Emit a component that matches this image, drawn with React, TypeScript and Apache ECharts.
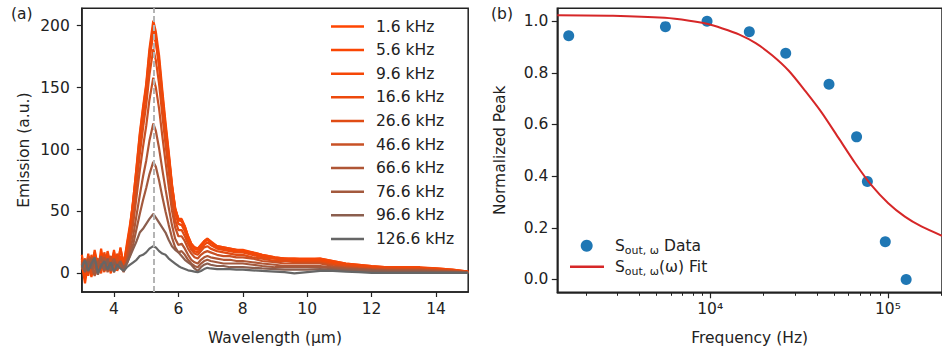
import React, { useEffect, useRef } from "react";
import * as echarts from "echarts";

const FONT = "DejaVu Sans";
const TEXT = "#222222";

// ---- Panel (a): emission spectra ----
const WAVELENGTH = [
  3.0, 3.1, 3.2, 3.3, 3.4, 3.5, 3.6, 3.7, 3.8, 3.9, 4.0, 4.1, 4.2, 4.3,
  4.4, 4.5, 4.6, 4.7, 4.8, 4.9, 5.0, 5.1, 5.22,
  5.3, 5.4, 5.5, 5.6, 5.7, 5.8, 5.9, 6.0, 6.1, 6.2, 6.3, 6.4, 6.5, 6.6, 6.7, 6.8, 6.9, 7.0,
  7.2, 7.4, 7.6, 7.8, 8.0,
  8.3, 8.6, 9.0, 9.3, 9.6,
  10.0, 10.4, 10.8, 11.2, 11.6,
  12.0, 12.5, 13.0, 13.5, 14.0, 14.5, 15.0,
];

const EM_1_6 = [
  8, -8, 10, -2, 14, 1, 20, 4, 12, 0, 15, 3, 21, 6,
  24, 40, 58, 82, 107, 128, 146, 172, 194,
  186, 168, 142, 117, 94, 70, 52, 44, 44, 38, 30, 24, 21, 20, 23, 26, 28, 26,
  22, 21, 20, 19, 19,
  17, 15, 13, 12, 12,
  12, 12, 10, 8, 7,
  6, 5, 5, 4.5, 4, 3, 1.5,
];
const EM_5_6 = [
  15, 2, 9, -3, 17, 6, 11, 1, 16, 4, 19, 2, 14, 7,
  20, 36, 60, 85, 111, 132, 151, 178, 200,
  191, 172, 145, 119, 96, 71, 53, 43, 42, 37, 29, 23, 20, 19, 22, 25, 27, 25,
  21, 20, 19, 18, 18,
  16, 14, 12, 12, 11,
  11, 11, 9, 7, 6,
  5, 5, 4.5, 4.5, 3.5, 2.5, 1.5,
];
const EM_9_6 = [
  12, -4, 16, 3, 19, 5, 14, 2, 18, 7, 17, 6, 20, 8,
  22, 38, 60, 86, 113, 134, 153, 181, 204,
  195, 176, 148, 122, 98, 72, 52, 44, 43, 38, 30, 24, 21, 20, 23, 26, 28, 25,
  22, 21, 20, 19, 18,
  17, 15, 13, 12, 12,
  11, 12, 10, 8, 7,
  6, 5, 5, 5, 4, 3, 1.5,
];
const EM_16_6 = [
  6, 12, -2, 15, 4, 10, 0, 17, 5, 13, 3, 16, 9, 4,
  18, 33, 55, 80, 106, 128, 148, 174, 197,
  188, 168, 141, 115, 91, 66, 49, 40, 39, 34, 27, 21, 18, 17, 20, 23, 25, 23,
  20, 19, 18, 17, 17,
  15, 13, 12, 11, 10,
  10, 10, 8, 7, 6,
  5, 4, 4, 4, 3, 2.5, 1,
];
const EM_26_6 = [
  10, 3, 14, -1, 9, 12, 2, 15, 6, 11, 1, 14, 5, 3,
  15, 28, 48, 72, 96, 117, 136, 160, 181,
  172, 153, 128, 104, 82, 59, 43, 35, 35, 30, 24, 19, 16, 15, 18, 21, 22, 20,
  18, 17, 16, 15, 15,
  13, 12, 10, 10, 9,
  9, 9, 7, 6, 5,
  4, 4, 3.5, 3.5, 3, 2, 1,
];
const EM_46_6 = [
  4, 11, 1, 13, 7, -1, 12, 3, 9, 14, 2, 10, 6, 2,
  12, 24, 41, 62, 83, 102, 119, 140, 158,
  150, 133, 111, 90, 70, 51, 37, 30, 30, 26, 20, 16, 13, 12, 15, 17, 18, 17,
  15, 14, 14, 13, 13,
  12, 10, 9, 8, 8,
  8, 8, 6, 5, 4,
  3.5, 3, 3, 3, 2.5, 2, 1,
];
const EM_66_6 = [
  9, 2, 12, 5, -2, 10, 4, 13, 1, 8, 11, 3, 7, 1,
  9, 18, 31, 47, 63, 78, 91, 107, 121,
  115, 101, 84, 68, 53, 39, 28, 23, 24, 20, 15, 11, 9, 8, 11, 13, 14, 13,
  12, 11, 11, 10, 10,
  9, 8, 7, 6, 6,
  6, 6, 5, 4, 3.5,
  3, 2.5, 2.5, 2.5, 2, 1.5, 0.8,
];
const EM_76_6 = [
  3, 10, 6, 12, 0, 7, 14, 2, 9, 5, 12, 4, 8, 5,
  8, 15, 24, 36, 48, 59, 69, 80, 90,
  86, 75, 62, 50, 39, 29, 21, 17, 18, 15, 11, 8, 6, 5, 8, 10, 11, 10,
  9, 8, 8, 8, 8,
  7, 6, 5, 5, 5,
  5, 5, 4, 3.5, 3,
  2.5, 2, 2, 2, 1.5, 1, 0.5,
];
const EM_96_6 = [
  7, 1, 10, 4, 11, -1, 8, 3, 12, 2, 9, 6, 10, 4,
  8, 14, 20, 26, 33, 36, 40, 44, 48,
  45, 41, 37, 33, 27, 22, 19, 17, 14, 11, 9, 7, 4, 2, 5, 7, 8, 7,
  6, 6, 5, 5, 5,
  4.5, 4, 3.5, 3, 3,
  3, 3.5, 3, 2.5, 2,
  2, 1.5, 1.5, 1.5, 1, 1, 0.5,
];
const EM_126_6 = [
  5, 11, 2, 8, 13, 0, 6, 10, 3, 9, 1, 7, 4, 2,
  5, 7, 9, 11, 14, 15, 17, 20, 22,
  21, 18, 16, 15, 12, 10, 8, 6, 4.5, 3.5, 2.5, 2, 1.5, 1, 2, 3.5, 4.5, 4,
  3.5, 3.5, 3.5, 3, 3,
  2.5, 2, 1.5, 1, 0,
  1, 2, 2, 1.5, 1,
  0.5, 0.5, 0.5, 0.5, 0.5, 0.5, 0.5,
];

const SERIES_LABELS = [
  "1.6 kHz", "5.6 kHz", "9.6 kHz", "16.6 kHz", "26.6 kHz",
  "46.6 kHz", "66.6 kHz", "76.6 kHz", "96.6 kHz", "126.6 kHz",
];
const SERIES_VALUES = [
  EM_1_6, EM_5_6, EM_9_6, EM_16_6, EM_26_6,
  EM_46_6, EM_66_6, EM_76_6, EM_96_6, EM_126_6,
];
const SERIES_COLORS = [
  "#ff4500", "#fa4603", "#f54707", "#ed490c", "#e04c14",
  "#c85125", "#af5635", "#a3593d", "#8b5e4e", "#666666",
];
const PEAK_WAVELENGTH = 5.22;

const LEFT_X_TICKS = [4, 6, 8, 10, 12, 14];
const LEFT_Y_TICKS = [0, 50, 100, 150, 200];

// ---- Panel (b): normalized peak vs frequency ----
const DATA_FREQ = [1600, 5600, 9600, 16600, 26600, 46600, 66600, 76600, 96600, 126600];
const DATA_PEAK = [0.944, 0.979, 1.0, 0.959, 0.876, 0.756, 0.552, 0.379, 0.146, 0.0];

const FIT_FREQ = [1380, 2840, 5550, 7630, 9580, 11720, 14500, 18030, 22300, 27670, 34330, 42500, 52700, 65300, 80900, 100400, 124500, 154200, 201400];
const FIT_PEAK = [1.023, 1.021, 1.013, 1.002, 0.99, 0.972, 0.949, 0.915, 0.868, 0.808, 0.729, 0.645, 0.548, 0.451, 0.364, 0.295, 0.243, 0.205, 0.169];

const RIGHT_X_MIN = 1380;
const RIGHT_X_MAX = 201400;
const RIGHT_X_MAJOR = [10000, 100000];
const RIGHT_X_MINOR = [2000, 3000, 4000, 5000, 6000, 7000, 8000, 9000, 20000, 30000, 40000, 50000, 60000, 70000, 80000, 90000, 200000];
const RIGHT_Y_TICKS = [0, 0.2, 0.4, 0.6, 0.8, 1.0];

const DATA_NAME = "Sout, ω Data";
const FIT_NAME = "Sout, ω(ω) Fit";

const axisText = { color: TEXT, fontSize: 15.5, fontFamily: FONT };
const spine = { show: true, onZero: false, lineStyle: { color: TEXT, width: 1.5 } };
const richLegend = {
  n: { fontSize: 15.5, lineHeight: 20, color: TEXT, fontFamily: FONT },
  s: { fontSize: 11, lineHeight: 11, verticalAlign: "bottom", color: TEXT, fontFamily: FONT },
};

export default function App() {
  const ref = useRef<HTMLDivElement>(null);

  useEffect(() => {
    if (!ref.current) return;
    const chart = echarts.init(ref.current, undefined, { renderer: "svg" });

    const leftSeries: any[] = SERIES_VALUES.map((vals, k) => ({
      type: "line",
      name: SERIES_LABELS[k],
      xAxisIndex: 0,
      yAxisIndex: 0,
      data: WAVELENGTH.map((w, i) => [w, vals[i]]),
      symbol: "none",
      color: SERIES_COLORS[k],
      lineStyle: { color: SERIES_COLORS[k], width: 2.2 },
      silent: true,
    }));
    leftSeries.push({
      type: "line",
      name: "peak-marker",
      xAxisIndex: 0,
      yAxisIndex: 0,
      data: [],
      silent: true,
      markLine: {
        silent: true,
        symbol: ["none", "none"],
        label: { show: false },
        lineStyle: { color: "#b4b4b4", width: 2, type: [6, 3] },
        data: [{ xAxis: PEAK_WAVELENGTH }],
      },
    });

    const option: any = {
      animation: false,
      backgroundColor: "#ffffff",
      textStyle: { fontFamily: FONT },
      graphic: [
        { type: "text", left: 11, top: 6, style: { text: "(a)", fontSize: 15.5, fill: TEXT, fontFamily: FONT } },
        { type: "text", left: 491, top: 6, style: { text: "(b)", fontSize: 15.5, fill: TEXT, fontFamily: FONT } },
      ],
      grid: [
        { left: 81.8, top: 8.3, width: 386.4, height: 283.7, show: true, borderColor: TEXT, borderWidth: 1.5, backgroundColor: "transparent" },
        { left: 557.3, top: 8.3, right: -2, height: 284, show: true, borderColor: TEXT, borderWidth: 1.5, backgroundColor: "transparent" },
      ],
      legend: [
        {
          data: SERIES_LABELS,
          orient: "vertical",
          left: 331,
          top: 17.5,
          padding: 0,
          icon: "rect",
          itemWidth: 33,
          itemHeight: 2.5,
          itemGap: 5.6,
          selectedMode: false,
          textStyle: { ...axisText, lineHeight: 18, padding: [0, 0, 0, 7] },
        },
        {
          data: [DATA_NAME],
          orient: "vertical",
          left: 580.7,
          top: 237.7,
          padding: 0,
          icon: "circle",
          itemWidth: 12,
          itemHeight: 12,
          selectedMode: false,
          formatter: () => "{n|S}{s|out, ω}{n| Data}",
          textStyle: { ...axisText, padding: [0, 0, 0, 17.3], rich: richLegend },
        },
        {
          data: [FIT_NAME],
          orient: "vertical",
          left: 570,
          top: 258.7,
          padding: 0,
          icon: "rect",
          itemWidth: 34,
          itemHeight: 2.5,
          selectedMode: false,
          formatter: () => "{n|S}{s|out, ω}{n|(ω) Fit}",
          textStyle: { ...axisText, padding: [0, 0, 0, 6], rich: richLegend },
        },
      ],
      xAxis: [
        {
          gridIndex: 0,
          type: "value",
          position: "bottom",
          min: 3,
          max: 15,
          axisLine: spine,
          axisTick: { show: true, customValues: LEFT_X_TICKS, length: 5, lineStyle: { color: TEXT, width: 1.2 } },
          axisLabel: { customValues: LEFT_X_TICKS, margin: 9, ...axisText },
          splitLine: { show: false },
          name: "Wavelength (µm)",
          nameLocation: "middle",
          nameGap: 38,
          nameTextStyle: axisText,
        },
        {
          gridIndex: 1,
          type: "log",
          logBase: 10,
          position: "bottom",
          min: RIGHT_X_MIN,
          max: RIGHT_X_MAX,
          axisLine: spine,
          axisTick: { show: true, customValues: RIGHT_X_MAJOR, length: 6, lineStyle: { color: TEXT, width: 1.2 } },
          axisLabel: {
            customValues: RIGHT_X_MAJOR,
            margin: 9,
            ...axisText,
            formatter: (v: number) => (Math.abs(v - 10000) < 1 ? "10⁴" : "10⁵"),
          },
          splitLine: { show: false },
          minorSplitLine: { show: false },
          name: "Frequency (Hz)",
          nameLocation: "middle",
          nameGap: 38,
          nameTextStyle: axisText,
        },
        {
          gridIndex: 1,
          type: "log",
          logBase: 10,
          position: "top",
          offset: -284,
          min: RIGHT_X_MIN,
          max: RIGHT_X_MAX,
          axisLine: { show: false, onZero: false },
          axisTick: { show: true, inside: true, customValues: RIGHT_X_MINOR, length: 3.5, lineStyle: { color: TEXT, width: 1 } },
          axisLabel: { show: false },
          splitLine: { show: false },
        },
      ],
      yAxis: [
        {
          gridIndex: 0,
          type: "value",
          min: -15,
          max: 214,
          axisLine: spine,
          axisTick: { show: true, customValues: LEFT_Y_TICKS, length: 5, lineStyle: { color: TEXT, width: 1.2 } },
          axisLabel: { customValues: LEFT_Y_TICKS, margin: 12, ...axisText },
          splitLine: { show: false },
          name: "Emission (a.u.)",
          nameLocation: "middle",
          nameGap: 50,
          nameTextStyle: axisText,
        },
        {
          gridIndex: 1,
          type: "value",
          min: -0.05,
          max: 1.05,
          axisLine: spine,
          axisTick: { show: true, customValues: RIGHT_Y_TICKS, length: 5.5, lineStyle: { color: TEXT, width: 1.2 } },
          axisLabel: { customValues: RIGHT_Y_TICKS, margin: 9, ...axisText, formatter: (v: number) => v.toFixed(1) },
          splitLine: { show: false },
          name: "Normalized Peak",
          nameLocation: "middle",
          nameGap: 49,
          nameTextStyle: axisText,
        },
      ],
      series: [
        ...leftSeries,
        {
          type: "line",
          name: FIT_NAME,
          xAxisIndex: 1,
          yAxisIndex: 1,
          data: FIT_FREQ.map((f, i) => [f, FIT_PEAK[i]]),
          symbol: "none",
          smooth: 0.25,
          color: "#d62728",
          lineStyle: { color: "#d62728", width: 2 },
          silent: true,
        },
        {
          type: "scatter",
          name: DATA_NAME,
          xAxisIndex: 1,
          yAxisIndex: 1,
          data: DATA_FREQ.map((f, i) => [f, DATA_PEAK[i]]),
          symbol: "circle",
          symbolSize: 11,
          itemStyle: { color: "#1f77b4", opacity: 1 },
          silent: true,
        },
      ],
    };

    chart.setOption(option);
    return () => chart.dispose();
  }, []);

  return (
    <div
      ref={ref}
      style={{ position: "absolute", left: 0, top: 0, width: 942, height: 358, background: "#fff" }}
    />
  );
}
